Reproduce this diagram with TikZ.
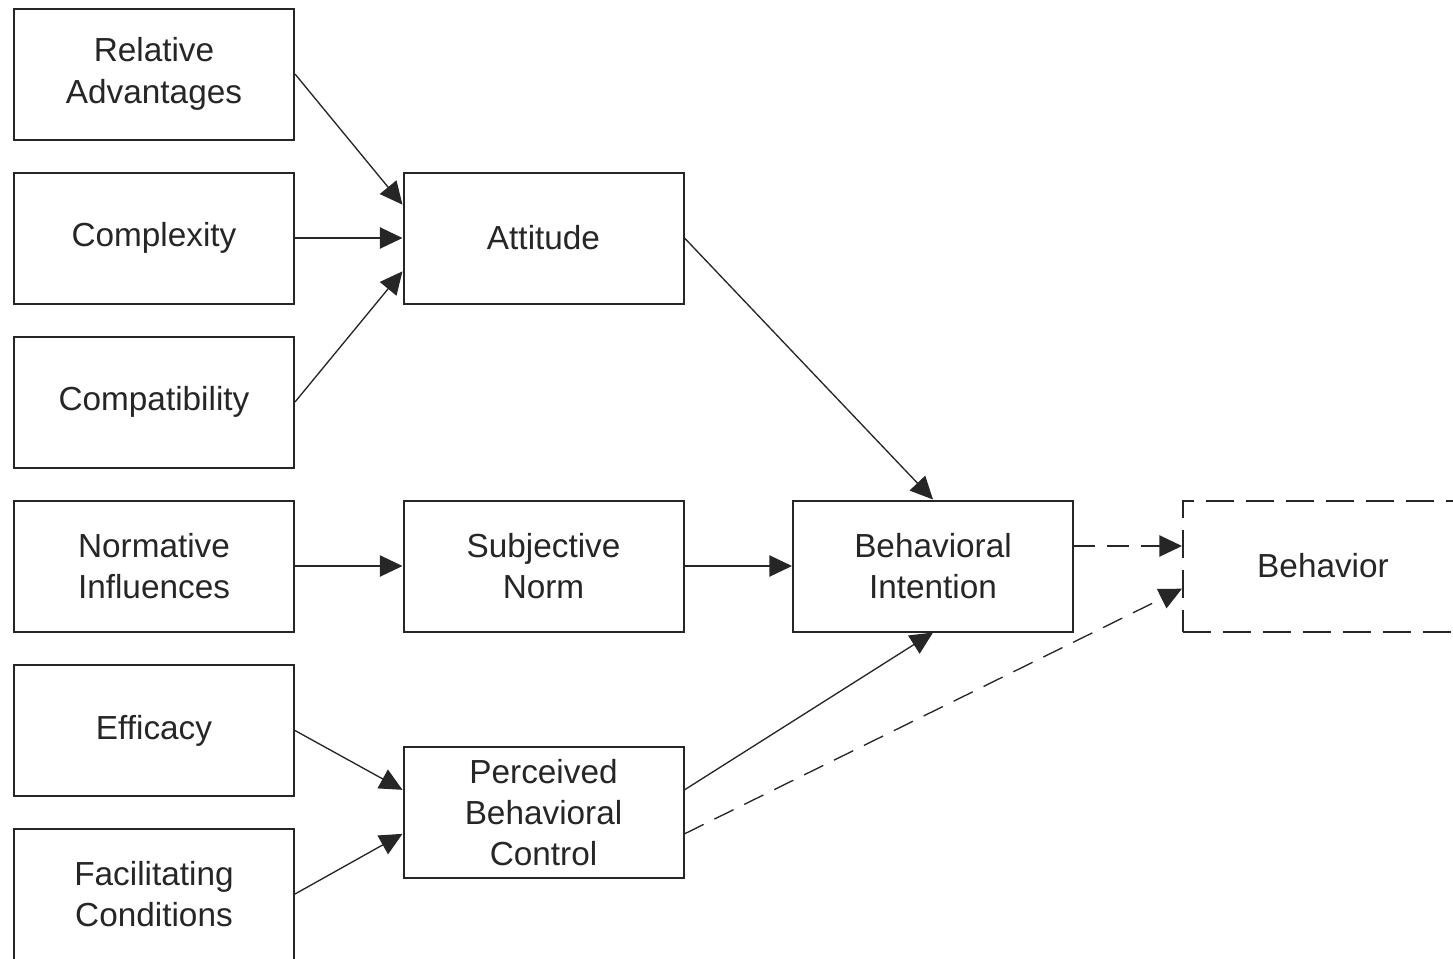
\documentclass[tikz,border=0pt]{standalone}
\usepackage{fontspec}
\setmainfont{Liberation Sans}
\usetikzlibrary{arrows.meta}

\tikzset{every picture/.style={line width=0.75pt}}
\tikzset{
  box/.style={draw=black!85, line width=1.5pt, fill=white, minimum width=210pt, minimum height=98.25pt,
    align=center, inner sep=0pt, text=black!85, font=\fontsize{25}{31}\selectfont},
  dashbox/.style={box, dash pattern={on 21pt off 9pt}},
  link/.style={draw=black!85, line width=1pt, -{Triangle[length=17pt,width=16pt]}},
  dashlink/.style={link, dash pattern={on 16pt off 9pt}}
}

\begin{document}
\begin{tikzpicture}[x=0.75pt,y=0.75pt,yscale=-1,xscale=1]
                      \useasboundingbox (0,0) rectangle (1453,958);
                      \clip (0,0) rectangle (1453,958);

                      %Shape: Rectangle [id:left column]
                      \node [box] (relAdv) at (154,74) {Relative\\Advantages};
                      \node [box] (complex) at (154,238) {Complexity};
                      \node [box] (compat) at (154,402) {Compatibility};
                      \node [box] (normInf) at (154,566) {Normative\\Influences};
                      \node [box] (effic) at (154,730.5) {Efficacy};
                      \node [box] (facCond) at (154,894) {Facilitating\\Conditions};

                      %Shape: Rectangle [id:middle column]
                      \node [box] (attitude) at (543.5,238) {Attitude};
                      \node [box] (subjNorm) at (543.5,566) {Subjective\\Norm};
                      \node [box] (percCtrl) at (543.5,812.5) {Perceived\\Behavioral\\Control};

                      %Shape: Rectangle [id:right column]
                      \node [box] (behInt) at (933,566) {Behavioral\\Intention};
                      \node [dashbox] (behav) at (1323,566) {Behavior};

                      %Straight Lines [id:to attitude]
                      \draw [link] (relAdv.east) -- ([yshift=-25pt]attitude.west);
                      \draw [link] (complex.east) -- (attitude.west);
                      \draw [link] (compat.east) -- ([yshift=25pt]attitude.west);

                      %Straight Lines [id:norm row]
                      \draw [link] (normInf.east) -- (subjNorm.west);
                      \draw [link] (subjNorm.east) -- (behInt.west);

                      %Straight Lines [id:to control]
                      \draw [link] (effic.east) -- ([yshift=-17pt]percCtrl.west);
                      \draw [link] (facCond.east) -- ([yshift=16pt]percCtrl.west);

                      %Straight Lines [id:to intention]
                      \draw [link] (attitude.east) -- (behInt.north);
                      \draw [link] ([yshift=-17pt]percCtrl.east) -- (behInt.south);

                      %Straight Lines [id:to behavior]
                      \draw [dashlink] ([yshift=-15pt]behInt.east) -- ([yshift=-15pt]behav.west);
                      \draw [dashlink] ([yshift=16pt]percCtrl.east) -- ([yshift=17pt]behav.west);

\end{tikzpicture}
\end{document}
